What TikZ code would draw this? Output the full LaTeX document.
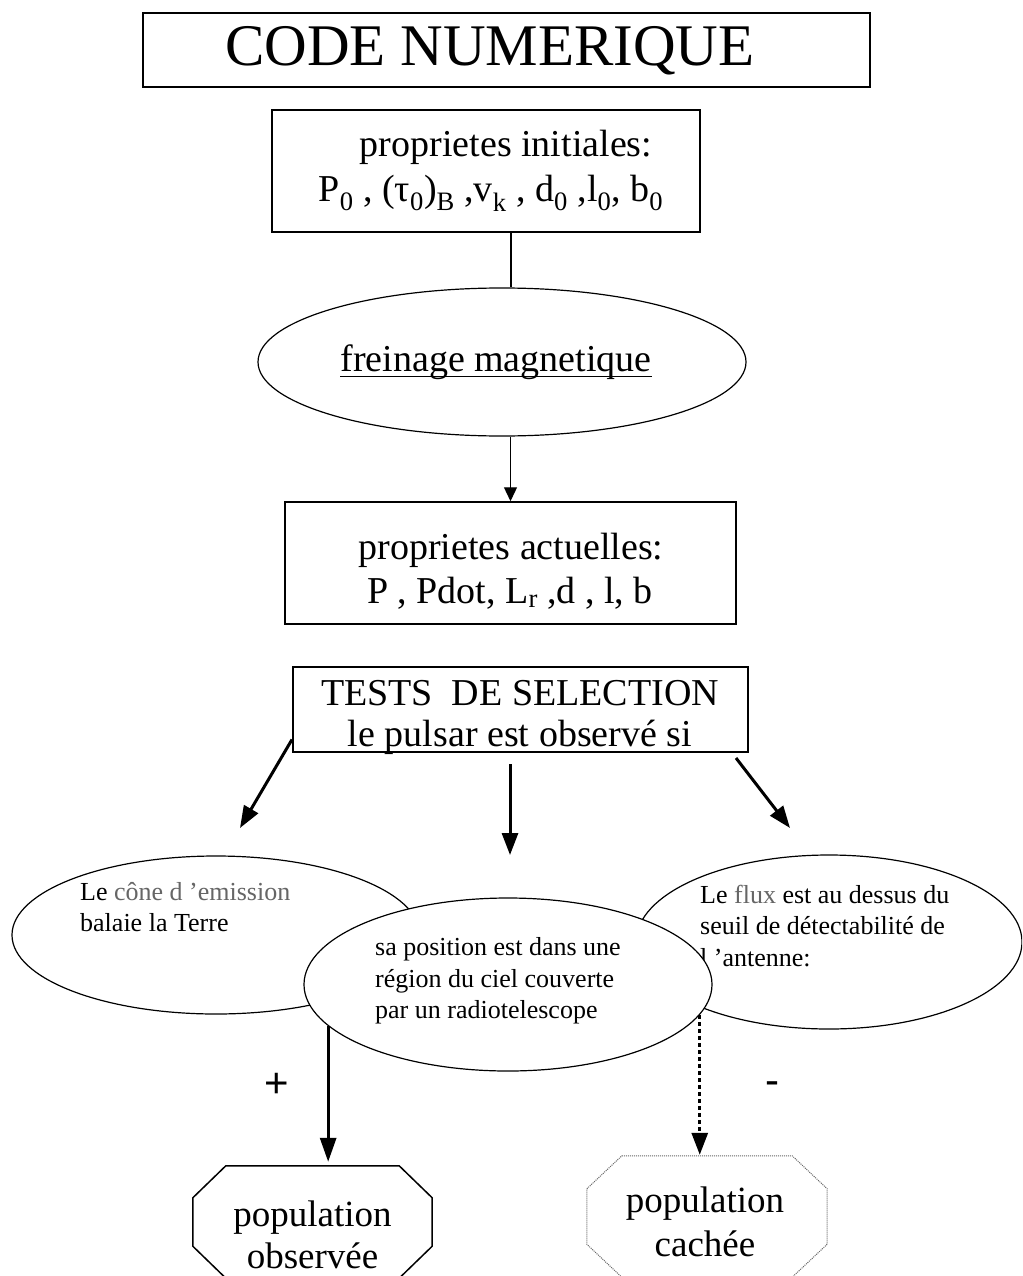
\documentclass[tikz,border=0pt]{standalone}
\usepackage{fontspec}
\setmainfont{Liberation Serif}
\newfontfamily\sansf{Liberation Sans}
\usetikzlibrary{shapes.geometric,arrows.meta}
\newcommand{\fsz}[2]{\fontsize{#1}{#2}\selectfont}
\begin{document}
\begin{tikzpicture}[x=1pt,y=-1pt,
  box/.style={draw, line width=1.5pt, inner sep=0pt},
  oval/.style={draw, ellipse, line width=1.2pt, inner sep=0pt, fill=white},
  txt/.style={inner sep=0pt},
  big/.style={inner sep=0pt, font=\fsz{38}{44}},
  small/.style={font=\fsz{26}{31.5}, align=left, inner sep=0pt},
  octbox/.style={inner sep=0pt, align=center, font=\fsz{37}{42}},
  tarrow/.style={line width=3pt, -{Triangle[length=22pt,width=16pt]}},
  thin arrow/.style={line width=1.3pt, -{Triangle[length=14pt,width=13pt]}},
]
\path[use as bounding box, fill=white] (0,0) rectangle (1022,1276);
\clip (0,0) rectangle (1022,1276);

% title
\node[box, line width=1.2pt, minimum width=727pt, minimum height=74pt] (title) at (506.5,50) {};
\node[txt, font=\fsz{59}{66}] (titleT) at (490,51) {CODE NUMERIQUE};

% initial properties
\node[box, minimum width=428pt, minimum height=122pt] (init) at (486,171) {};
\node[big] (i1) at (506,147) {proprietes initiales:};
\node[big] (i2) at (491,193) {P\textsubscript{0} , (τ\textsubscript{0})\textsubscript{B} ,v\textsubscript{k} , d\textsubscript{0} ,l\textsubscript{0}, b\textsubscript{0}};

% magnetic braking
\node[oval, minimum width=488pt, minimum height=148pt] (fm) at (502,362) {};
\node[big] (fmT) at (496,362) {freinage magnetique};
\draw[line width=1.3pt] ([yshift=-5pt]fmT.base west) -- ([yshift=-5pt]fmT.base east);
\coordinate (vx) at (511,0);
\draw[line width=1.3pt] (init.south -| vx) -- (fm.north -| vx);

% current properties
\node[box, minimum width=451pt, minimum height=122pt] (act) at (510.5,563) {};
\node[big] (a1) at (511,550) {proprietes actuelles:};
\node[big] (a2) at (510,593) {P , Pdot, L\textsubscript{r} ,d , l, b};
\draw[thin arrow] (fm.south -| act.north) -- (act.north);

% selection tests
\node[box, line width=2pt, minimum width=455pt, minimum height=85pt] (tests) at (520.5,709.5) {};
\node[big] (s1) at (520,693) {TESTS\ \ DE SELECTION};
\node[big] (s2) at (520,737) {le pulsar est observé si};

\coordinate (la) at (240,828);
\coordinate (ca) at (510,855);
\coordinate (ra) at (790,828);
\draw[tarrow] ([yshift=-30pt]tests.west) -- (la);
\draw[tarrow] ([xshift=-10.5pt,yshift=-11pt]tests.south) -- (ca);
\draw[tarrow] ([xshift=-13pt,yshift=-5pt]tests.south east) -- (ra);

% ellipses
\node[oval, minimum width=408pt, minimum height=158pt] (L) at (216,935) {};
\node[small, anchor=west] (Lt) at (80,907) {Le {\color{black!60}cône d ’emission}\\balaie la Terre};
\node[oval, minimum width=386pt, minimum height=174pt] (R) at (829,942) {};
\node[small, anchor=west] (Rt) at (700,926) {Le {\color{black!60}flux} est au dessus du\\seuil de détectabilité de\\l ’antenne:};
\node[oval, minimum width=408pt, minimum height=173pt] (C) at (508,984.5) {};
\node[small, anchor=west] (Ct) at (375,981) {sa position est dans une\\région du ciel couverte\\par un radiotelescope};

% populations
\node[minimum width=239pt, minimum height=112pt, inner sep=0pt] (obs) at (312.5,1222) {};
\draw[line width=1.5pt] ([xshift=33pt]obs.north west) -- ([xshift=-33pt]obs.north east) -- ([yshift=-32pt]obs.north east) -- ([yshift=32pt]obs.south east) -- ([xshift=-33pt]obs.south east) -- ([xshift=33pt]obs.south west) -- ([yshift=32pt]obs.south west) -- ([yshift=-32pt]obs.north west) -- cycle;
\node[octbox] (obsT) at (312.5,1235) {population\\observée};

\node[minimum width=240pt, minimum height=121pt, inner sep=0pt] (hid) at (707,1216.5) {};
\draw[line width=1pt, black!60, densely dotted] ([xshift=35pt]hid.north west) -- ([xshift=-35pt]hid.north east) -- ([yshift=-33pt]hid.north east) -- ([yshift=33pt]hid.south east) -- ([xshift=-35pt]hid.south east) -- ([xshift=35pt]hid.south west) -- ([yshift=33pt]hid.south west) -- ([yshift=-33pt]hid.north west) -- cycle;
\node[octbox, font=\fsz{37}{44}] (hidT) at (705,1222) {population\\cachée};

\draw[line width=3pt, -{Triangle[length=24pt,width=16pt]}, shorten >=4pt] (C.193) -- (C.193 |- obs.north);
\draw[line width=3pt, dash pattern=on 4pt off 3pt, -{Triangle[length=22pt,width=16pt]}, shorten >=1pt] (C.-9) -- (C.-9 |- hid.north);

\node[font=\sansf\fsz{42}{46}] (plus) at (277,1085) {+};
\node[font=\sansf\fsz{42}{46}] (minus) at (772,1088) {-};
\end{tikzpicture}
\end{document}
